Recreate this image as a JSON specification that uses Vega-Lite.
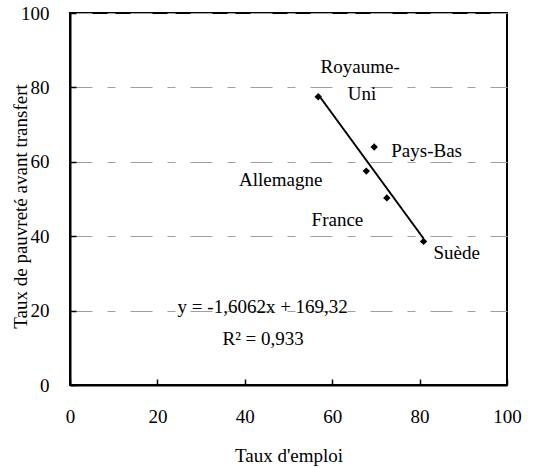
{
  "$schema": "https://vega.github.io/schema/vega-lite/v6.json",
  "width": 437,
  "height": 372,
  "autosize": "none",
  "padding": {"left": 70, "top": 13, "right": 30, "bottom": 83},
  "background": "white",
  "config": {
    "font": "Times New Roman",
    "view": {"stroke": "black", "strokeWidth": 2},
    "axis": {
      "labelFont": "Times New Roman",
      "titleFont": "Times New Roman",
      "labelFontSize": 19,
      "titleFontSize": 19,
      "labelColor": "black",
      "titleColor": "black",
      "titleFontWeight": "normal",
      "domainColor": "black",
      "domainWidth": 2,
      "tickColor": "black",
      "tickWidth": 1.5
    }
  },
  "layer": [
    {
      "data": {"values": [
        {"pays": "Royaume-Uni", "emploi": 56.8, "pauvrete": 77.5},
        {"pays": "Pays-Bas", "emploi": 69.6, "pauvrete": 64.0},
        {"pays": "Allemagne", "emploi": 67.8, "pauvrete": 57.5},
        {"pays": "France", "emploi": 72.5, "pauvrete": 50.3},
        {"pays": "Suède", "emploi": 80.9, "pauvrete": 38.6}
      ]},
      "mark": {"type": "point", "shape": "diamond", "filled": true, "color": "black", "size": 55, "opacity": 1},
      "encoding": {
        "x": {"field": "emploi", "type": "quantitative", "scale": {"domain": [0, 100], "nice": false},
          "axis": {"values": [0, 20, 40, 60, 80, 100], "title": "Taux d'emploi", "grid": false, "tickSize": -6, "labelPadding": 28, "titleY": 70, "titleBaseline": "middle", "labelFlush": false}},
        "y": {"field": "pauvrete", "type": "quantitative", "scale": {"domain": [0, 100], "nice": false},
          "axis": {"values": [0, 20, 40, 60, 80, 100], "title": "Taux de pauvreté avant transfert", "grid": true, "gridColor": "#a0a0a0", "gridWidth": 1.2, "gridDash": [22, 15, 8, 15], "tickSize": -6, "labelPadding": 27, "titleX": -50, "titleY": 193, "titleBaseline": "middle", "labelFlush": false}}
      }
    },
    {
      "data": {"values": [
        {"emploi": 56.8, "pauvrete": 78.09},
        {"emploi": 80.9, "pauvrete": 39.38}
      ]},
      "mark": {"type": "line", "color": "black", "strokeWidth": 2},
      "encoding": {
        "x": {"field": "emploi", "type": "quantitative"},
        "y": {"field": "pauvrete", "type": "quantitative"}
      }
    },
    {
      "data": {"values": [
        {"label": "Royaume-", "emploi": 66.4, "pauvrete": 85.5},
        {"label": "Uni", "emploi": 66.8, "pauvrete": 78.2},
        {"label": "Pays-Bas", "emploi": 81.6, "pauvrete": 62.9},
        {"label": "Allemagne", "emploi": 48.2, "pauvrete": 55.1},
        {"label": "France", "emploi": 61.2, "pauvrete": 44.4},
        {"label": "Suède", "emploi": 88.5, "pauvrete": 35.4},
        {"label": "y = -1,6062x + 169,32", "emploi": 44.1, "pauvrete": 21.0},
        {"label": "R² = 0,933", "emploi": 44.2, "pauvrete": 12.5}
      ]},
      "mark": {"type": "text", "font": "Times New Roman", "fontSize": 19, "color": "black", "align": "center", "baseline": "middle"},
      "encoding": {
        "x": {"field": "emploi", "type": "quantitative"},
        "y": {"field": "pauvrete", "type": "quantitative"},
        "text": {"field": "label"}
      }
    }
  ]
}
